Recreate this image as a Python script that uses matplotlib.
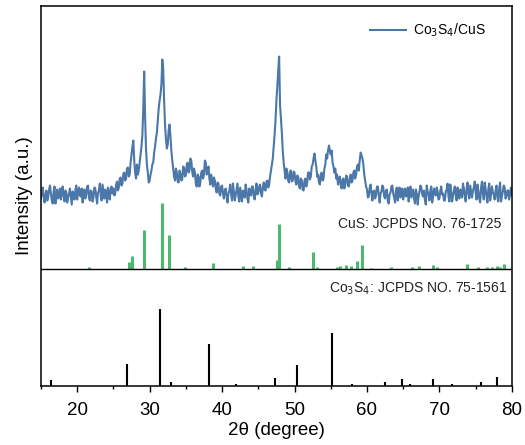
import numpy as np
import matplotlib.pyplot as plt
from matplotlib.ticker import MultipleLocator

plt.rcParams['font.family'] = ['Liberation Sans', 'DejaVu Sans']

# measured pattern, 2theta scan from 15 to 80 deg in 0.125 deg steps
two_theta = np.arange(15.0, 80.001, 0.125)
intensity = [
    # 15 - 20
    188, 194, 199, 190, 184, 192, 196, 186, 190, 197, 201, 193, 186, 183, 195, 200, 183, 191, 197, 188,
    191, 198, 187, 195, 200, 190, 185, 196, 194, 184, 189, 193, 198, 190, 182, 195, 193, 187, 196, 201,
    # 20 - 25
    187, 195, 199, 191, 190, 198, 184, 193, 197, 188, 192, 200, 201, 189, 186, 196, 195, 185, 189, 199,
    198, 190, 183, 194, 196, 203, 191, 186, 202, 195, 188, 197, 194, 184, 199, 192, 187, 198, 200, 193,
    # 25 - 30
    198, 191, 193, 202, 205, 196, 199, 208, 209, 201, 203, 213, 214, 206, 208, 218, 219, 210, 212, 224,
    232, 240, 246, 226, 214, 208, 222, 212, 216, 224, 232, 240, 252, 278, 315, 270, 238, 222, 214, 204,
    # 30 - 35
    206, 212, 216, 222, 224, 234, 240, 248, 254, 266, 278, 286, 292, 302, 327, 318, 286, 262, 248, 238,
    242, 256, 262, 250, 236, 226, 218, 210, 206, 218, 214, 205, 204, 216, 213, 206, 207, 220, 219, 210,
    # 35 - 40
    211, 222, 224, 214, 216, 228, 226, 215, 210, 218, 214, 203, 200, 212, 210, 200, 204, 214, 216, 208,
    212, 226, 224, 212, 214, 220, 208, 202, 212, 206, 200, 209, 206, 198, 194, 204, 203, 193, 191, 200,
    # 40 - 45
    201, 193, 188, 196, 198, 190, 184, 193, 196, 202, 192, 186, 203, 195, 186, 191, 197, 203, 190, 185,
    199, 192, 185, 196, 195, 189, 202, 197, 188, 184, 198, 194, 191, 200, 200, 190, 187, 196, 203, 192,
    # 45 - 50
    194, 200, 202, 193, 190, 199, 204, 197, 196, 205, 206, 199, 202, 210, 216, 222, 228, 240, 252, 266,
    286, 300, 316, 330, 282, 268, 254, 236, 224, 216, 208, 218, 214, 206, 204, 215, 216, 205, 206, 215,
    # 50 - 55
    214, 205, 202, 211, 210, 200, 198, 208, 206, 197, 196, 206, 208, 200, 204, 214, 214, 207, 210, 220,
    222, 228, 233, 226, 220, 210, 212, 204, 202, 212, 214, 206, 208, 218, 222, 232, 228, 236, 241, 236,
    # 55 - 60
    232, 236, 224, 220, 214, 218, 208, 212, 202, 208, 210, 201, 198, 207, 208, 198, 202, 211, 210, 201,
    200, 208, 212, 204, 206, 214, 216, 208, 212, 220, 222, 216, 226, 234, 231, 228, 222, 212, 206, 200,
    # 60 - 65
    197, 189, 190, 199, 202, 193, 186, 195, 196, 188, 191, 200, 200, 192, 184, 193, 195, 201, 199, 190,
    188, 196, 197, 186, 183, 192, 194, 200, 201, 193, 189, 184, 196, 199, 186, 194, 199, 189, 192, 198,
    # 65 - 70
    187, 194, 198, 190, 191, 199, 185, 193, 200, 189, 193, 197, 188, 183, 197, 193, 182, 190, 195, 201,
    199, 192, 190, 196, 186, 182, 201, 195, 192, 186, 196, 200, 184, 190, 198, 193, 191, 199, 195, 187,
    # 70 - 75
    188, 196, 200, 192, 193, 186, 186, 195, 197, 203, 190, 185, 202, 194, 185, 191, 196, 200, 191, 186,
    199, 194, 188, 197, 195, 189, 203, 198, 190, 185, 198, 204, 193, 188, 201, 195, 189, 196, 199, 205,
    # 75 - 80
    194, 187, 202, 196, 188, 184, 199, 205, 193, 187, 204, 198, 190, 184, 197, 203, 186, 192, 200, 194,
    192, 187, 196, 201, 189, 185, 198, 204, 185, 190, 195, 201, 199, 188, 190, 196, 196, 187, 193, 199,
    191,
]

# CuS reference lines (JCPDS 76-1725)
cus_pos = [21.65, 27.1, 27.6, 29.2, 31.7, 32.7, 34.9, 38.8, 42.9, 44.2, 47.6, 47.8, 49.2,
           52.6, 53.1, 55.9, 56.3, 57.1, 57.8, 58.6, 59.3, 60.6, 63.3, 66.25, 67.2,
           69.1, 69.7, 73.8, 75.3, 76.5, 77.2, 77.9, 78.3, 78.9]
cus_int = [2, 7, 13, 39, 66, 34, 1.5, 6, 3, 3, 9, 45, 2,
           17, 2, 2, 3, 4, 3, 8, 24, 1, 2, 2, 3,
           4, 2, 5, 1.5, 2, 2, 3, 2, 5]

# Co3S4 reference lines (JCPDS 75-1561)
co_pos = [16.4, 26.85, 31.5, 32.9, 38.25, 41.9, 47.3, 50.4, 55.2, 58.0,
          62.5, 64.9, 65.9, 69.1, 71.7, 75.7, 78.0]
co_int = [6, 22, 77, 4, 42, 2, 8, 21, 53, 2,
          4, 7, 2, 7, 2, 4, 9]

cus_base = 118

fig = plt.figure(figsize=(5.25, 4.45), dpi=100)
ax = fig.add_axes([0.078, 0.1315, 0.897, 0.856])

ax.plot(two_theta, intensity, color='#4b77a9', lw=1.5, label='Co$_3$S$_4$/CuS')
ax.vlines(cus_pos, cus_base, cus_base + np.array(cus_int), color='#4cb870', lw=2.2)
ax.vlines(co_pos, 0, co_int, color='black', lw=1.5)
ax.axhline(cus_base, color='black', lw=1.0)

ax.text(78.5, 163, 'CuS: JCPDS NO. 76-1725', ha='right', va='center', fontsize=10, color='#222222')
ax.text(79.4, 98, 'Co$_3$S$_4$: JCPDS NO. 75-1561', ha='right', va='center', fontsize=10, color='#222222')

ax.set_xlim(15, 80)
ax.set_ylim(0, 381)
ax.set_yticks([])
ax.xaxis.set_major_locator(MultipleLocator(10))
ax.xaxis.set_minor_locator(MultipleLocator(5))
ax.tick_params(axis='x', which='major', direction='out', length=4.5, width=1, labelsize=13.5, pad=6.5)
ax.tick_params(axis='x', which='minor', direction='out', length=2.2, width=1)
for spine in ax.spines.values():
    spine.set_linewidth(1.1)

ax.set_xlabel('2\u03b8 (degree)', fontsize=13.5, labelpad=2)
ax.set_ylabel('Intensity (a.u.)', fontsize=13.5, labelpad=6)

ax.legend(loc='upper right', bbox_to_anchor=(0.97, 0.99), frameon=False, fontsize=10,
          handlelength=2.6, handletextpad=0.5)

fig.savefig('out.png', dpi=100)
